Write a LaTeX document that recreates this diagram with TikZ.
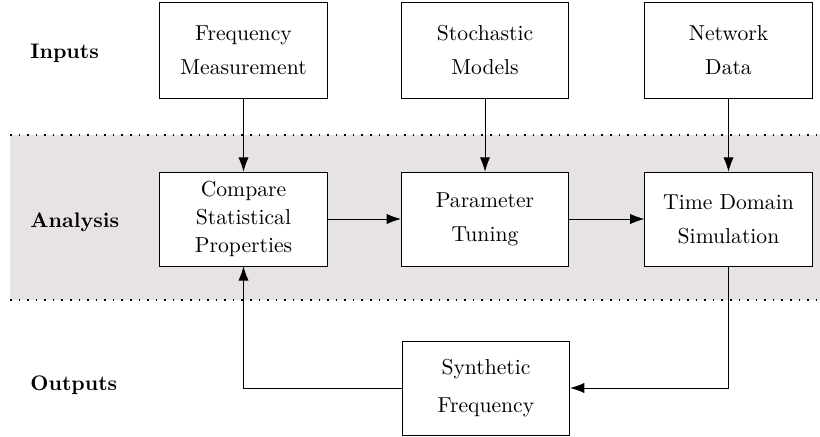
\documentclass[tikz,border=0pt]{standalone}
\usepackage{tikz}
\usetikzlibrary{arrows.meta}
\definecolor{bandgray}{RGB}{231,226,230}

\begin{document}
\begin{tikzpicture}[x=0.49pt, y=-0.49pt, >={Latex[length=7pt,width=5pt]},
    block/.style={draw, fill=white, align=center, minimum width=82pt, minimum height=47pt, inner sep=0pt,
      font=\fontsize{10.6pt}{12.7pt}\selectfont},
    rowlabel/.style={anchor=west, inner sep=0pt, font=\fontsize{10.3pt}{12pt}\selectfont\bfseries}]
    \useasboundingbox (0,0) rectangle (820,437);

    % analysis band
    \fill[bandgray] (10,135) rectangle (820,300);
    \draw[line width=0.8pt, dash pattern=on 0.8pt off 3.4pt] (10,135) -- (820,135);
    \draw[line width=0.8pt, dash pattern=on 0.8pt off 3.4pt] (10,300) -- (820,300);

    \node[rowlabel] (lin) at (30,53) {Inputs};
    \node[rowlabel] (lan) at (30,222) {Analysis};
    \node[rowlabel] (lout) at (30,385) {Outputs};

    % inputs
    \node[block] (meas) at (243.5,50) {Frequency\\[4pt]Measurement};
    \node[block] (stoch) at (485,50) {Stochastic\\[4pt]Models};
    \node[block] (net) at (728.5,50) {Network\\[4pt]Data};

    % analysis
    \node[block, minimum height=46pt] (comp) at (243.5,219) {Compare\\[1pt]Statistical\\[1pt]Properties};
    \node[block, minimum height=46pt] (tune) at (485,219) {Parameter\\[4pt]Tuning};
    \node[block, minimum height=46pt] (sim) at (728.5,219) {Time Domain\\[4pt]Simulation};

    % outputs
    \node[block, minimum height=46pt] (synth) at (486,388) {Synthetic\\[6pt]Frequency};

    \draw[->] (meas) -- (comp);
    \draw[->] (stoch) -- (tune);
    \draw[->] (net) -- (sim);
    \draw[->] (comp) -- (tune);
    \draw[->] (tune) -- (sim);
    \draw[->] (sim.south) |- (synth.east);
    \draw[->] (synth.west) -| (comp.south);
\end{tikzpicture}
\end{document}
